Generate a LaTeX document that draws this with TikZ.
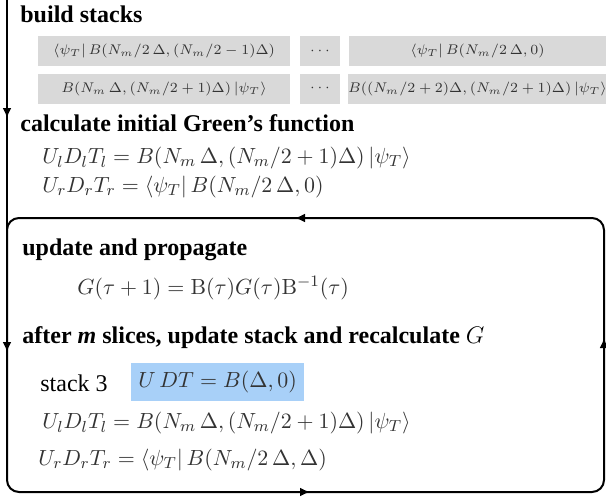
\documentclass[tikz,border=0pt]{standalone}
\usepackage[no-math]{fontspec}
\setmainfont{Liberation Serif}
\usetikzlibrary{arrows.meta}
\definecolor{gfill}{HTML}{D9D9D9}
\definecolor{bfill}{HTML}{A8D0F8}
\definecolor{mtext}{HTML}{333333}
\begin{document}
\begin{tikzpicture}[x=0.5pt,y=-0.5pt,
  head/.style={anchor=west, inner sep=0pt, font=\fontsize{12}{14}\selectfont\bfseries},
  eq/.style={anchor=west, inner sep=0pt, font=\fontsize{11}{13}\selectfont, text=mtext},
  gbox/.style={fill=gfill, inner sep=0pt, minimum height=15pt, font=\fontsize{7.5}{9}\selectfont, text=mtext},
  flow/.style={line width=1pt},
  tipline/.style={-{Latex[length=5pt,width=4.5pt]}, line width=1pt}]
\useasboundingbox (0,0) rectangle (606,500);

% flow lines
\coordinate (lt) at (7,218);
\coordinate (rb) at (604,492);
\draw[flow, rounded corners=6pt] (lt) rectangle (rb);
\coordinate (top) at (7,0);
\coordinate (bot) at (7,478);
\draw[flow] (top) -- (bot);
\coordinate (a1s) at (7,108); \coordinate (a1e) at (7,118);
\coordinate (a2s) at (7,342); \coordinate (a2e) at (7,352);
\coordinate (a3s) at (305,218); \coordinate (a3e) at (295,218);
\coordinate (a4s) at (300,492); \coordinate (a4e) at (310,492);
\coordinate (a5s) at (604,348); \coordinate (a5e) at (604,338);
\draw[tipline] (a1s) -- (a1e);
\draw[tipline] (a2s) -- (a2e);
\draw[tipline] (a3s) -- (a3e);
\draw[tipline] (a4s) -- (a4e);
\draw[tipline] (a5s) -- (a5e);

% build stacks
\node[head] (h1) at (20,14) {build stacks};
\node[gbox, minimum width=126pt] (s1a) at (164,51) {$\langle\psi_T|\,B(N_m/2\,\Delta,(N_m/2-1)\Delta)$};
\node[gbox, minimum width=20pt] (s1b) at (320,51) {$\cdots$};
\node[gbox, minimum width=128.5pt] (s1c) at (477.5,51) {$\langle\psi_T|\,B(N_m/2\,\Delta,0)$};
\node[gbox, minimum width=126pt] (s2a) at (164,88.5) {$B(N_m\,\Delta,(N_m/2+1)\Delta)\,|\psi_T\rangle$};
\node[gbox, minimum width=20pt] (s2b) at (320,88.5) {$\cdots$};
\node[gbox, minimum width=128.5pt] (s2c) at (477.5,88.5) {$B((N_m/2+2)\Delta,(N_m/2+1)\Delta)\,|\psi_T\rangle$};

% initial Green's function
\node[head] (h2) at (20,123) {calculate initial Green's function};
\node[eq] (e1) at (42,158) {$U_lD_lT_l = B(N_m\,\Delta,(N_m/2+1)\Delta)\,|\psi_T\rangle$};
\node[eq] (e2) at (42,187) {$U_rD_rT_r = \langle\psi_T|\,B(N_m/2\,\Delta,0)$};

% loop
\node[head] (h3) at (22,250) {update and propagate};
\node[eq] (e3) at (77,288) {$G(\tau+1) = \mathrm{B}(\tau)G(\tau)\mathrm{B}^{-1}(\tau)$};
\node[head] (h4) at (22,338) {after \textit{m} slices, update stack and recalculate $G$};
\node[anchor=west, inner sep=0pt, font=\fontsize{12}{14}\selectfont] (st) at (40,383) {stack 3};
\node[fill=bfill, inner xsep=3.5pt, minimum height=19pt, text=mtext, font=\fontsize{11}{13}\selectfont, anchor=west] (ub) at (131,382) {$U\,DT = B(\Delta,0)$};
\node[eq] (e4) at (42,423) {$U_lD_lT_l = B(N_m\,\Delta,(N_m/2+1)\Delta)\,|\psi_T\rangle$};
\node[eq] (e5) at (38,460) {$U_rD_rT_r = \langle\psi_T|\,B(N_m/2\,\Delta,\Delta)$};
\end{tikzpicture}
\end{document}
